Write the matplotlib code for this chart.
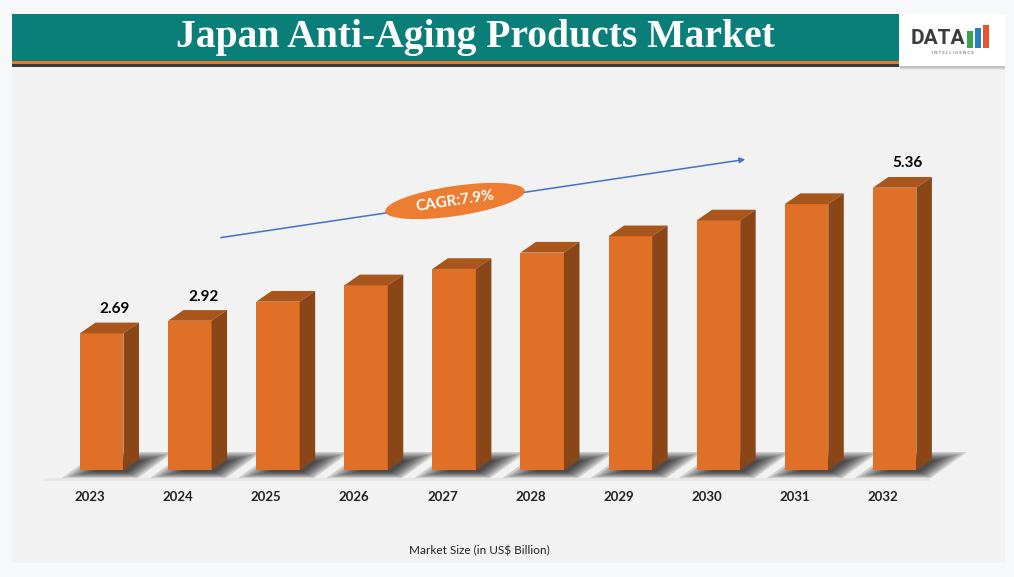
import numpy as np
import matplotlib
matplotlib.use("Agg")
import matplotlib.pyplot as plt
from matplotlib.patches import Polygon, Rectangle, Ellipse, FancyArrowPatch

# data
years = ["2023", "2024", "2025", "2026", "2027", "2028", "2029", "2030", "2031", "2032"]
market_size = [2.69, 2.92, 3.27, 3.57, 3.87, 4.17, 4.47, 4.76, 5.06, 5.36]
value_labels = {"2023": "2.69", "2024": "2.92", "2032": "5.36"}
cagr_text = "CAGR:7.9%"
title_text = "Japan Anti-Aging Products Market"
axis_title = "Market Size (in US$ Billion)"

W, H = 1014, 577
FRONT = "#E06F27"
TOP = "#A8561B"
SIDE = "#8A4617"
TEAL = "#0A7F7A"

plt.rcParams["font.family"] = ["Lato", "DejaVu Sans"]


def fx(px):
    return px / W


def fy(py):
    return 1 - py / H


def inch(px, py):
    return (px / 100, (H - py) / 100)


fig = plt.figure(figsize=(W / 100, H / 100), dpi=100)
fig.patch.set_facecolor("#f7f8fa")

# grey panel
fig.patches.append(Rectangle((fx(12), fy(563)), fx(1005) - fx(12), fy(66) - fy(563),
                             transform=fig.transFigure, facecolor="#f2f2f2",
                             edgecolor="none", zorder=-2))
# header band
fig.patches.append(Rectangle((fx(12), fy(61)), fx(899) - fx(12), fy(14) - fy(61),
                             transform=fig.transFigure, facecolor=TEAL, edgecolor="none", zorder=1))
fig.patches.append(Rectangle((fx(12), fy(64.5)), fx(899) - fx(12), fy(61) - fy(64.5),
                             transform=fig.transFigure, facecolor="#E8792B", edgecolor="none", zorder=1))
fig.patches.append(Rectangle((fx(12), fy(66.5)), fx(899) - fx(12), fy(64.5) - fy(66.5),
                             transform=fig.transFigure, facecolor="#3a3a3a", edgecolor="none", zorder=1))
# logo box + its shadow
for k, a in enumerate([0.10, 0.07, 0.04]):
    fig.patches.append(Rectangle((fx(900), fy(68 + k)), fx(1005) - fx(900), fy(66) - fy(68 + k),
                                 transform=fig.transFigure, facecolor="black", alpha=a,
                                 edgecolor="none", zorder=1))
fig.patches.append(Rectangle((fx(899), fy(66)), fx(1005) - fx(899), fy(14) - fy(66),
                             transform=fig.transFigure, facecolor="white", edgecolor="none", zorder=2))

fig.text(fx(475), fy(38), title_text, ha="center", va="center", color="white",
         fontsize=28.5, fontweight="bold", family="Liberation Serif", zorder=5)

# logo
fig.text(fx(938), fy(39), "DATA", ha="center", va="center", color="#3b3b3b",
         fontsize=15, fontweight="bold", family="Roboto", zorder=5)
for x0, top, c in [(967, 31, "#3aa54a"), (975, 28, "#2a7fc1"), (983, 25, "#e8532b")]:
    fig.patches.append(Rectangle((fx(x0), fy(48)), fx(6), fy(top) - fy(48),
                                 transform=fig.transFigure, facecolor=c, edgecolor="none", zorder=5))
fig.text(fx(953), fy(53), "I N T E L L I G E N C E", ha="center", va="center",
         color="#555555", fontsize=3.2, zorder=5)

# main axes, laid out so one category = 88.1 px and one unit = 54.53 px
ax = fig.add_axes([fx(12), fy(563), (1005 - 12) / W, (563 - 68) / H])
ax.set_xlim(-0.885, 10.386)
ax.set_ylim(-1.522, 7.555)
ax.axis("off")
ax.patch.set_alpha(0)

px = 1 / 88.1
pv = 1 / 54.53
base = 0.183
shift = 11.75 * px
width = 43.5 * px
ddx = 15.5 * px
ddy = 10.7 * pv

x = np.arange(len(years))
vals = np.array(market_size)

# floor line
ax.plot([(45 - 90) * px, (928 - 90) * px], [base - 9 * pv] * 2, color="#e6e6e6", lw=2, zorder=1)

# floor shadows (blurred look from stacked translucent shapes)
for xi in x:
    x0 = xi + shift - width / 2
    pts = np.array([[x0 - 18 * px, base - 8 * pv], [x0 + 58 * px, base - 8 * pv],
                    [x0 + 94 * px, base + 18 * pv], [x0 + 18 * px, base + 18 * pv]])
    c = pts.mean(axis=0) + np.array([0, -2 * pv])
    for k in range(7):
        s = 1 - 0.09 * k
        ax.add_patch(Polygon(c + (pts - c) * s, closed=True, facecolor="black",
                             alpha=0.15, edgecolor="none", zorder=2))

# bars: front face + top + side
ax.bar(x + shift, vals - base, width=width, bottom=base, color=FRONT, zorder=4)
for xi, v in zip(x, vals):
    x0 = xi + shift - width / 2
    x1 = x0 + width
    ax.add_patch(Polygon([[x0, v], [x1, v], [x1 + ddx, v + ddy], [x0 + ddx, v + ddy]],
                         closed=True, facecolor=TOP, edgecolor="none", zorder=4))
    ax.add_patch(Polygon([[x1, base], [x1 + ddx, base + ddy], [x1 + ddx, v + ddy], [x1, v]],
                         closed=True, facecolor=SIDE, edgecolor="none", zorder=4))

# value labels
for xi, yr, v in zip(x, years, vals):
    if yr in value_labels:
        ax.text(xi + 25 * px, v + ddy + 13.5 * pv, value_labels[yr], ha="center", va="center",
                fontsize=11, fontweight="bold", color="black", zorder=6)

# year labels
for xi, yr in zip(x, years):
    ax.text(xi, base - 27 * pv, yr, ha="center", va="center", fontsize=9.5,
            fontweight="bold", color="#222222", zorder=6)

fig.text(fx(479), fy(551), axis_title, ha="center", va="center", fontsize=8.5, color="#222222")

# CAGR arrow and badge
arrow = FancyArrowPatch(inch(218, 238), inch(748, 159), transform=fig.dpi_scale_trans,
                        arrowstyle="-|>", mutation_scale=8, color="#4472C4", lw=1.1, zorder=7)
fig.patches.append(arrow)
ang = np.degrees(np.arctan2(238 - 159, 748 - 218))
fig.patches.append(Ellipse(inch(455, 201), 1.41, 0.30, angle=ang, transform=fig.dpi_scale_trans,
                           facecolor="#ED7D31", edgecolor="none", zorder=8))
fig.text(fx(455), fy(201), cagr_text, ha="center", va="center", rotation=ang,
         fontsize=11, fontweight="bold", color="white", zorder=9)

fig.savefig("out.png", dpi=100, facecolor=fig.get_facecolor())
